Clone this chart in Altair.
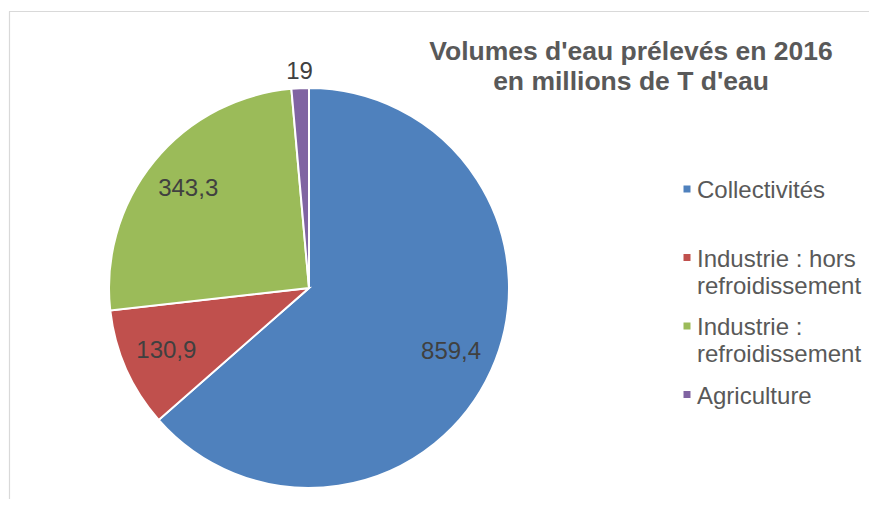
import altair as alt
import pandas as pd

categories = ["Collectivités", "Industrie : hors refroidissement", "Industrie : refroidissement", "Agriculture"]
values = [859.4, 130.9, 343.3, 19]
colors = ["#4F81BD", "#C0504D", "#9BBB59", "#8064A2"]
title_lines = ["Volumes d'eau prélevés en 2016", "en millions de T d'eau"]


def fr(v):
    return f"{v:g}".replace(".", ",")


df = pd.DataFrame({
    "categorie": categories,
    "volume": values,
    "ordre": list(range(len(categories))),
    "etiquette": [fr(v) for v in values],
})
dummy = pd.DataFrame({"k": [0]})

FONT = "Liberation Sans"
W, H = 861, 491
CX, CY, R = 300, 280, 200

frame_top = alt.Chart(dummy).mark_rule(color="#d9d9d9", strokeWidth=1.2).encode(
    x=alt.value(0), x2=alt.value(W), y=alt.value(3.5)
)
frame_left = alt.Chart(dummy).mark_rule(color="#d9d9d9", strokeWidth=1.2).encode(
    x=alt.value(0.5), y=alt.value(3.5), y2=alt.value(H)
)

base = alt.Chart(df).encode(
    theta=alt.Theta("volume:Q", stack=True),
    order=alt.Order("ordre:Q", sort="ascending"),
    x=alt.value(CX),
    y=alt.value(CY),
)

pie = base.mark_arc(radius=R, stroke="white", strokeWidth=2).encode(
    color=alt.Color(
        "categorie:N",
        scale=alt.Scale(domain=categories, range=colors),
        legend=alt.Legend(
            title=None,
            orient="none",
            legendX=664,
            legendY=159,
            padding=0,
            labelFont=FONT,
            labelFontSize=24,
            labelColor="#595959",
            labelLimit=400,
            labelBaseline="top",
            labelOffset=0,
            labelExpr="split(replace(datum.label, ' refroidissement', '|refroidissement'), '|')",
            symbolType="M-0.15,0.65H0.55V1.35H-0.15Z",
            symbolSize=400,
            symbolStrokeWidth=0,
            symbolOpacity=1,
            rowPadding=5.5,
            gridAlign="all",
        ),
    )
)

labels_in = base.mark_text(radius=156, font=FONT, fontSize=24, color="#404040").encode(
    text=alt.condition(alt.datum.categorie != "Agriculture", alt.Text("etiquette:N"), alt.value(""))
)
labels_out = base.mark_text(radius=216, font=FONT, fontSize=24, color="#404040").encode(
    text=alt.condition(alt.datum.categorie == "Agriculture", alt.Text("etiquette:N"), alt.value(""))
)

title = alt.Chart(dummy).mark_text(
    text=title_lines,
    font=FONT,
    fontSize=26.5,
    fontWeight="bold",
    color="#595959",
    lineHeight=30,
    align="center",
    baseline="alphabetic",
).encode(x=alt.value(622), y=alt.value(52))

chart = alt.layer(frame_top, frame_left, pie, labels_in, labels_out, title).properties(
    width=W,
    height=H,
    padding=0,
    autosize=alt.AutoSizeParams(type="fit", contains="padding"),
).configure(
    view={"strokeWidth": 0, "stroke": None},
    style={"guide-label": {"lineHeight": 27}},
)

chart.save("out.html", embed_options={"renderer": "svg", "actions": False})
